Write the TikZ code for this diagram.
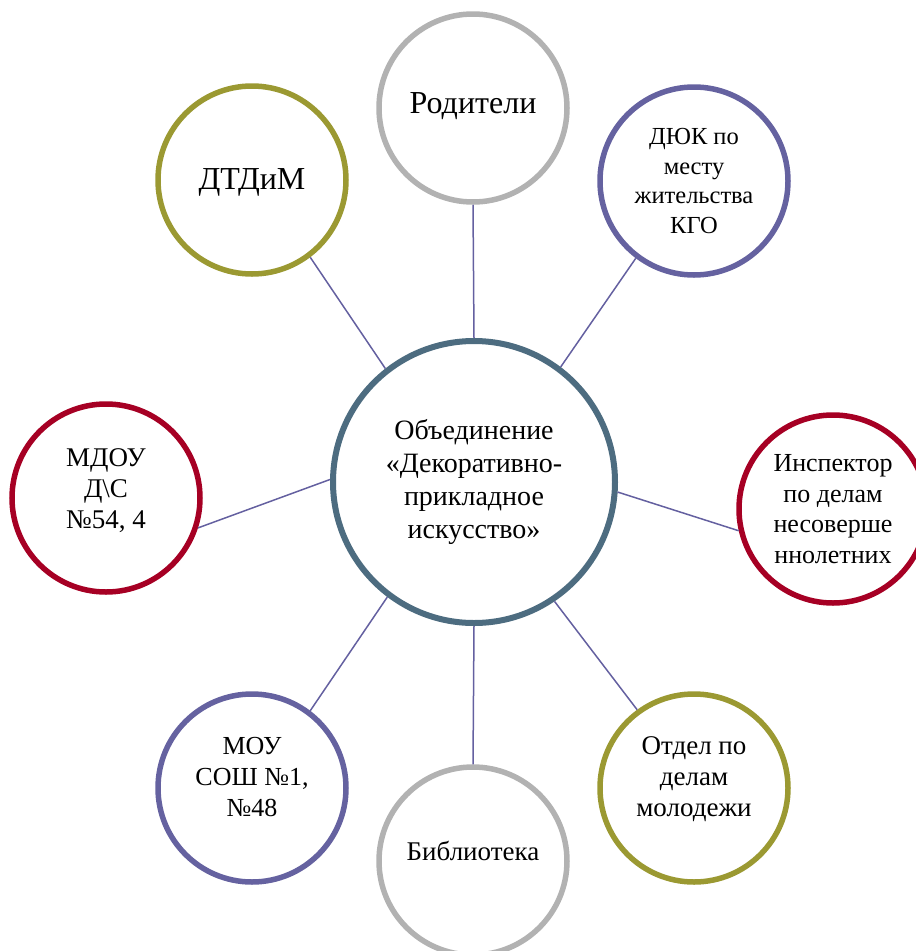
\documentclass[tikz,border=0pt]{standalone}
\usepackage{fontspec}
\setmainfont{Liberation Serif}
\definecolor{cstroke}{RGB}{77,108,128}
\definecolor{cgray}{RGB}{178,178,178}
\definecolor{colive}{RGB}{155,153,50}
\definecolor{cpurple}{RGB}{101,98,160}
\definecolor{ccrimson}{RGB}{166,0,36}
\definecolor{cline}{RGB}{100,96,160}
\tikzset{
  sat/.style={circle, draw=#1, line width=5.5pt, minimum size=188pt, inner sep=0pt, fill=white},
  hub/.style={circle, draw=cstroke, line width=6pt, minimum size=282pt, inner sep=0pt, align=center, fill=white,
    font=\fontsize{28}{33}\selectfont},
  lab/.style={align=center, inner sep=0pt, font=\fontsize{#1}{31}\selectfont},
  link/.style={draw=cline, line width=1.5pt}
}
\begin{document}
\begin{tikzpicture}[x=1pt,y=-1pt]
\useasboundingbox (0,0) rectangle (916,951);
\node[hub] (c) at (474,482) {Объединение\\«Декоративно-\\прикладное\\искусство»};
\node[sat=cgray, label={[lab=32, yshift=2pt]center:Родители}] (rod) at (473,108) {};
\node[sat=colive, label={[lab=32, yshift=-2pt]center:ДТДиМ}] (dtd) at (252,180) {};
\node[sat=cpurple, label={[lab=24.5, font=\fontsize{24.5}{29.5}\selectfont]center:{ДЮК по\\месту\\жительства\\КГО}}] (dyuk) at (694,181) {};
\node[sat=ccrimson, label={[lab=27, yshift=7pt]center:{МДОУ\\Д\textbackslash С\\№54, 4}}] (mdou) at (106,498) {};
\node[sat=ccrimson, label={[lab=26, font=\fontsize{26}{30.5}\selectfont]center:{Инспектор\\по делам\\несоверше\\ннолетних}}] (insp) at (833,509) {};
\node[sat=colive, label={[lab=27, yshift=9pt]center:{Отдел по\\делам\\молодежи}}] (otd) at (694,788) {};
\node[sat=cgray, label={[lab=27, yshift=10pt]center:Библиотека}] (bib) at (473,861) {};
\node[sat=cpurple, label={[lab=26, yshift=11pt]center:{МОУ\\СОШ №1,\\№48}}] (mou) at (252,788) {};
\draw[link] (c.90) -- (rod.270);
\draw[link] (c.128) -- (dtd.307);
\draw[link] (c.53) -- (dyuk.233.5);
\draw[link] (c.179) -- (mdou.342);
\draw[link] (c.356) -- (insp.193);
\draw[link] (c.304) -- (otd.126);
\draw[link] (c.270) -- (bib.90);
\draw[link] (c.233.5) -- (mou.53);
\end{tikzpicture}
\end{document}
